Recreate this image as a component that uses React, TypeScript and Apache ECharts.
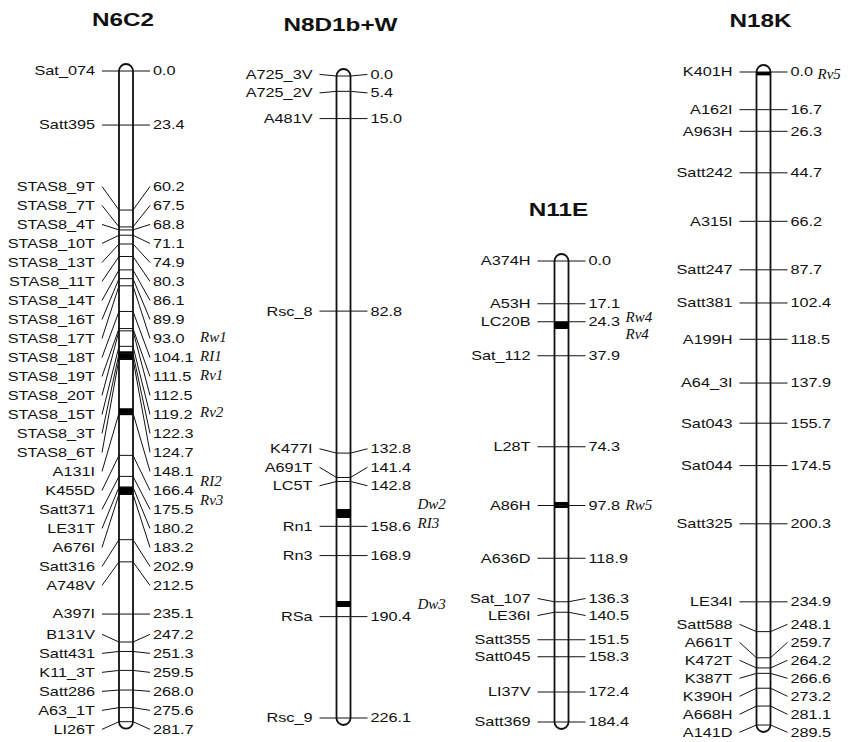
import React, { useEffect, useRef } from "react";
import * as echarts from "echarts";

// Linkage groups
const groupNames = ["N6C2", "N8D1b+W", "N11E", "N18K"];

// N6C2 markers (cM)
const n6c2Markers = [
  "Sat_074", "Satt395", "STAS8_9T", "STAS8_7T", "STAS8_4T", "STAS8_10T", "STAS8_13T", "STAS8_11T",
  "STAS8_14T", "STAS8_16T", "STAS8_17T", "STAS8_18T", "STAS8_19T", "STAS8_20T", "STAS8_15T", "STAS8_3T",
  "STAS8_6T", "A131I", "K455D", "Satt371", "LE31T", "A676I", "Satt316", "A748V", "A397I", "B131V",
  "Satt431", "K11_3T", "Satt286", "A63_1T", "LI26T",
];
const n6c2Positions = [
  0.0, 23.4, 60.2, 67.5, 68.8, 71.1, 74.9, 80.3, 86.1, 89.9, 93.0, 104.1, 111.5, 112.5, 119.2, 122.3,
  124.7, 148.1, 166.4, 175.5, 180.2, 183.2, 202.9, 212.5, 235.1, 247.2, 251.3, 259.5, 268.0, 275.6, 281.7,
];
const n6c2Genes = ["Rw1", "RI1", "Rv1", "Rv2", "RI2", "Rv3"];
const n6c2GeneFrom = [121.5, 121.5, 121.5, 146.0, 180.0, 180.0];
const n6c2GeneTo = [125.0, 125.0, 125.0, 149.0, 183.5, 183.5];

// N8D1b+W markers (cM)
const n8d1bMarkers = ["A725_3V", "A725_2V", "A481V", "Rsc_8", "K477I", "A691T", "LC5T", "Rn1", "Rn3", "RSa", "Rsc_9"];
const n8d1bPositions = [0.0, 5.4, 15.0, 82.8, 132.8, 141.4, 142.8, 158.6, 168.9, 190.4, 226.1];
const n8d1bGenes = ["Dw2", "RI3", "Dw3"];
const n8d1bGeneFrom = [152.5, 152.5, 184.9];
const n8d1bGeneTo = [155.6, 155.6, 187.0];

// N11E markers (cM)
const n11eMarkers = [
  "A374H", "A53H", "LC20B", "Sat_112", "L28T", "A86H", "A636D", "Sat_107", "LE36I", "Satt355", "Satt045",
  "LI37V", "Satt369",
];
const n11ePositions = [0.0, 17.1, 24.3, 37.9, 74.3, 97.8, 118.9, 136.3, 140.5, 151.5, 158.3, 172.4, 184.4];
const n11eGenes = ["Rw4", "Rv4", "Rw5"];
const n11eGeneFrom = [24.3, 24.3, 96.4];
const n11eGeneTo = [27.2, 27.2, 98.8];

// N18K markers (cM)
const n18kMarkers = [
  "K401H", "A162I", "A963H", "Satt242", "A315I", "Satt247", "Satt381", "A199H", "A64_3I", "Sat043",
  "Sat044", "Satt325", "LE34I", "Satt588", "A661T", "K472T", "K387T", "K390H", "A668H", "A141D",
];
const n18kPositions = [
  0.0, 16.7, 26.3, 44.7, 66.2, 87.7, 102.4, 118.5, 137.9, 155.7, 174.5, 200.3, 234.9, 248.1, 259.7,
  264.2, 266.6, 273.2, 281.1, 289.5,
];
const n18kGenes = ["Rv5"];
const n18kGeneFrom = [0.0];
const n18kGeneTo = [1.5];

const groups = [
  { markers: n6c2Markers, positions: n6c2Positions, genes: n6c2Genes, geneFrom: n6c2GeneFrom, geneTo: n6c2GeneTo },
  { markers: n8d1bMarkers, positions: n8d1bPositions, genes: n8d1bGenes, geneFrom: n8d1bGeneFrom, geneTo: n8d1bGeneTo },
  { markers: n11eMarkers, positions: n11ePositions, genes: n11eGenes, geneFrom: n11eGeneFrom, geneTo: n11eGeneTo },
  { markers: n18kMarkers, positions: n18kPositions, genes: n18kGenes, geneFrom: n18kGeneFrom, geneTo: n18kGeneTo },
];

// Page layout of each linkage group: bar centre, vertical extent, label pitch, gene label offset
const layout = [
  { cx: 126, top: 71, height: 650.7, gap: 19, geneDx: 74 },
  { cx: 343.5, top: 76, height: 642, gap: 18.5, geneDx: 74 },
  { cx: 561.5, top: 261, height: 461, gap: 17, geneDx: 64 },
  { cx: 763.5, top: 72, height: 653, gap: 18, geneDx: 54 },
];

const BAR_HALF = 7;
const CAP = 7;
const TICK = 24;
const TEXT_SCALE = 1.25;
const LABEL_FONT = "Liberation Sans, Arial, sans-serif";

// Spread label positions so that neighbours are at least `gap` apart;
// each overlapping run is centred on the middle of its markers.
function spreadLabels(ys: number[], gap: number): number[] {
  let clusters = ys.map((y, i) => ({ i0: i, i1: i, top: y }));
  let changed = true;
  while (changed) {
    changed = false;
    for (let k = 0; k < clusters.length - 1; k++) {
      const a = clusters[k];
      const b = clusters[k + 1];
      const aEnd = a.top + (a.i1 - a.i0) * gap;
      if (b.top - aEnd < gap - 0.01) {
        const i0 = a.i0;
        const i1 = b.i1;
        const mid = (ys[i0] + ys[i1]) / 2;
        const merged = { i0, i1, top: mid - ((i1 - i0) * gap) / 2 };
        clusters.splice(k, 2, merged);
        changed = true;
        break;
      }
    }
  }
  const out: number[] = new Array(ys.length);
  clusters.forEach((c) => {
    for (let i = c.i0; i <= c.i1; i++) out[i] = c.top + (i - c.i0) * gap;
  });
  return out;
}

function barPath(cx: number, yt: number, yb: number): string {
  const w = BAR_HALF;
  const h = CAP;
  const k = 0.5523;
  return [
    `M ${cx - w} ${yt}`,
    `L ${cx - w} ${yb}`,
    `C ${cx - w} ${yb + k * h} ${cx - k * w} ${yb + h} ${cx} ${yb + h}`,
    `C ${cx + k * w} ${yb + h} ${cx + w} ${yb + k * h} ${cx + w} ${yb}`,
    `L ${cx + w} ${yt}`,
    `C ${cx + w} ${yt - k * h} ${cx + k * w} ${yt - h} ${cx} ${yt - h}`,
    `C ${cx - k * w} ${yt - h} ${cx - w} ${yt - k * h} ${cx - w} ${yt}`,
    "Z",
  ].join(" ");
}

function makeRenderer(gi: number) {
  const g = groups[gi];
  const lay = layout[gi];
  return (_params: any, api: any) => {
    const cx = api.coord([0, 0])[0];
    const ys = g.positions.map((p) => api.coord([0, p])[1]);
    const labelYs = spreadLabels(ys, lay.gap);
    const yt = ys[0];
    const yb = ys[ys.length - 1];
    const children: any[] = [];

    // title
    children.push({
      type: "text",
      x: cx - 3,
      y: yt - 51,
      scaleX: 1.35,
      style: {
        text: groupNames[gi],
        x: 0,
        y: 0,
        align: "center",
        verticalAlign: "middle",
        fontSize: 18,
        fontWeight: "bold",
        fontFamily: LABEL_FONT,
        fill: "#111",
      },
    });

    // chromosome bar
    children.push({
      type: "path",
      shape: { pathData: barPath(cx, yt, yb) },
      style: { fill: "#fff", stroke: "#111", lineWidth: 1.8 },
    });

    // gene intervals
    g.genes.forEach((_name, i) => {
      const y0 = api.coord([0, g.geneFrom[i]])[1];
      const y1 = api.coord([0, g.geneTo[i]])[1];
      children.push({
        type: "rect",
        shape: { x: cx - BAR_HALF, y: y0, width: BAR_HALF * 2, height: Math.max(y1 - y0, 2) },
        style: { fill: "#000" },
      });
    });

    // marker ticks and connectors
    g.positions.forEach((_p, i) => {
      const m = ys[i];
      const l = labelYs[i];
      children.push({
        type: "polyline",
        shape: {
          points: [
            [cx - TICK, l],
            [cx - BAR_HALF, m],
            [cx + BAR_HALF, m],
            [cx + TICK, l],
          ],
        },
        style: { stroke: "#111", lineWidth: 1, fill: null },
      });
      children.push({
        type: "text",
        x: cx - 31,
        y: l,
        scaleX: TEXT_SCALE,
        style: {
          text: g.markers[i],
          x: 0,
          y: 0,
          align: "right",
          verticalAlign: "middle",
          fontSize: 13,
          fontFamily: LABEL_FONT,
          fill: "#111",
        },
      });
      children.push({
        type: "text",
        x: cx + 27,
        y: l,
        scaleX: TEXT_SCALE,
        style: {
          text: g.positions[i].toFixed(1),
          x: 0,
          y: 0,
          align: "left",
          verticalAlign: "middle",
          fontSize: 13,
          fontFamily: LABEL_FONT,
          fill: "#111",
        },
      });
    });

    // gene names
    const geneYs = g.genes.map((_n, i) => api.coord([0, (g.geneFrom[i] + g.geneTo[i]) / 2])[1]);
    const geneLabelYs = spreadLabels(geneYs, lay.gap);
    g.genes.forEach((name, i) => {
      children.push({
        type: "text",
        x: cx + lay.geneDx,
        y: geneLabelYs[i],
        style: {
          text: name,
          x: 0,
          y: 0,
          align: "left",
          verticalAlign: "middle",
          fontSize: 15,
          fontStyle: "italic",
          fontFamily: "Liberation Serif, Times New Roman, serif",
          fill: "#111",
        },
      });
    });

    return { type: "group", children };
  };
}

export default function App() {
  const ref = useRef<HTMLDivElement>(null);

  useEffect(() => {
    if (!ref.current) return;
    const chart = echarts.init(ref.current, null, { renderer: "svg" });
    const grid = layout.map((l) => ({ left: l.cx - 50, width: 100, top: l.top, height: l.height }));
    const xAxis = layout.map((_l, i) => ({ type: "value", gridIndex: i, min: -1, max: 1, show: false }));
    const yAxis = groups.map((g, i) => ({
      type: "value",
      gridIndex: i,
      inverse: true,
      min: 0,
      max: g.positions[g.positions.length - 1],
      show: false,
    }));
    const series = groups.map((_g, i) => ({
      type: "custom",
      xAxisIndex: i,
      yAxisIndex: i,
      clip: false,
      silent: true,
      data: [[0, 0]],
      renderItem: makeRenderer(i),
    }));
    chart.setOption({
      animation: false,
      backgroundColor: "#ffffff",
      grid,
      xAxis,
      yAxis,
      series,
    } as any);
    return () => chart.dispose();
  }, []);

  return (
    <div
      ref={ref}
      style={{ position: "fixed", left: 0, top: 0, width: 851, height: 742 }}
    />
  );
}
